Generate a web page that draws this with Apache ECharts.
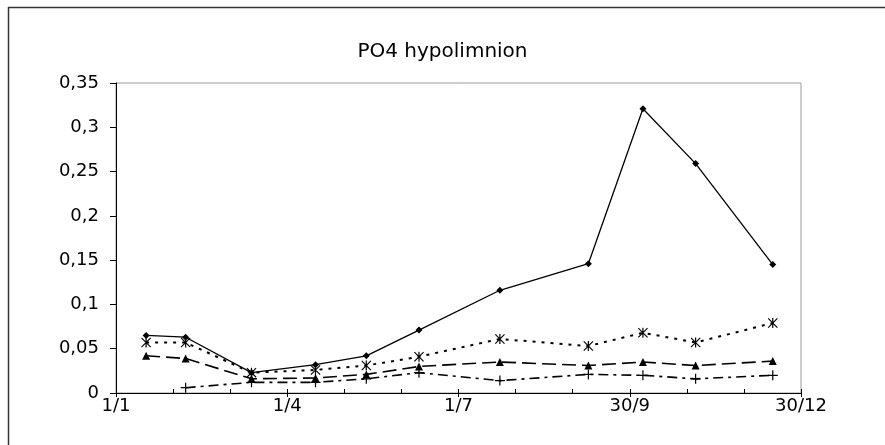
<!DOCTYPE html>
<html>
<head>
<meta charset="utf-8">
<script src="https://cdn.jsdelivr.net/npm/echarts@6/dist/echarts.min.js"></script>
<style>html,body{margin:0;padding:0;background:#fff;}#c{width:885px;height:445px;}</style>
</head>
<body>
<div id="c"></div>
<script>
// Day of year of each sampling date
const days = [16, 37, 72, 106, 133, 161, 204, 251, 280, 308, 349];
// PO4 values (mg/l)
const seriesSolid  = [0.065, 0.063, 0.023, 0.032, 0.042, 0.071, 0.116, 0.146, 0.321, 0.259, 0.145];
const seriesStar   = [0.057, 0.057, 0.023, 0.026, 0.031, 0.041, 0.061, 0.053, 0.068, 0.057, 0.079];
const seriesTri    = [0.042, 0.039, 0.016, 0.017, 0.021, 0.030, 0.035, 0.031, 0.035, 0.031, 0.036];
const seriesPlus   = [null, 0.006, 0.012, 0.012, 0.016, 0.023, 0.014, 0.021, 0.020, 0.016, 0.020];
const xTickLabels = ['1/1', '1/4', '1/7', '30/9', '30/12'];
const yTickLabels = ['0', '0,05', '0,1', '0,15', '0,2', '0,25', '0,3', '0,35'];

const pair = arr => days.map((d, i) => [d, arr[i]]);

const starPath = 'path://M4.4,0h1.2v10h-1.2zM0,0.8L0.8,0L10,9.2L9.2,10zM10,0.8L0.8,10L0,9.2L9.2,0z';
const plusPath = 'path://M4.4,0h1.2v4.4h4.4v1.2h-4.4v4.4h-1.2v-4.4h-4.4v-1.2h4.4z';

const font = 'DejaVu Sans';
const chart = echarts.init(document.getElementById('c'), null, {renderer: 'canvas'});
const xBase = {
  type: 'value', min: 0, max: 364, interval: 91, position: 'bottom', offset: 0,
  splitLine: {show: false}
};
chart.setOption({
  animation: false,
  backgroundColor: '#fff',
  title: {
    text: 'PO4 hypolimnion', left: 'center', top: 37,
    textStyle: {fontFamily: font, fontSize: 20, fontWeight: 'normal', color: '#000'}
  },
  grid: {left: 116, right: 84, top: 83, bottom: 52, show: true, borderColor: '#9a9a9a', borderWidth: 1},
  xAxis: [
    Object.assign({}, xBase, {
      axisLine: {show: true, lineStyle: {color: '#000', width: 1}},
      axisTick: {show: true, inside: true, length: 4, lineStyle: {color: '#000'}},
      minorTick: {show: true, splitNumber: 3, length: 4, lineStyle: {color: '#000'}},
      minorSplitLine: {show: false},
      axisLabel: {
        margin: 4, fontFamily: font, fontSize: 18, color: '#000',
        formatter: v => xTickLabels[Math.round(v / 91)] || ''
      }
    }),
    Object.assign({}, xBase, {
      axisLine: {show: false},
      axisTick: {show: true, inside: false, length: 4, lineStyle: {color: '#000'}},
      axisLabel: {show: false}
    })
  ],
  yAxis: {
    type: 'value', min: 0, max: 0.35, interval: 0.05,
    splitLine: {show: false},
    axisLine: {show: true, lineStyle: {color: '#000', width: 1}},
    axisTick: {show: true, length: 6, lineStyle: {color: '#000'}},
    axisLabel: {
      margin: 17, fontFamily: font, fontSize: 18, color: '#000',
      formatter: v => yTickLabels[Math.round(v / 0.05)]
    }
  },
  series: [
    {type: 'line', xAxisIndex: 0, data: pair(seriesSolid), symbol: 'diamond', symbolSize: 7,
     itemStyle: {color: '#000'}, lineStyle: {color: '#000', width: 1.3, type: 'solid'}, z: 5},
    {type: 'line', xAxisIndex: 0, data: pair(seriesStar), symbol: starPath, symbolSize: 10,
     itemStyle: {color: '#000'}, lineStyle: {color: '#000', width: 2, type: [3, 6]}, z: 4},
    {type: 'line', xAxisIndex: 0, data: pair(seriesTri), symbol: 'triangle', symbolSize: 8,
     itemStyle: {color: '#000'}, lineStyle: {color: '#000', width: 1.6, type: [14, 6]}, z: 3},
    {type: 'line', xAxisIndex: 0, data: pair(seriesPlus), symbol: plusPath, symbolSize: 10,
     connectNulls: false,
     itemStyle: {color: '#000'}, lineStyle: {color: '#000', width: 1.6, type: [10, 5, 3, 5]}, z: 2}
  ],
  graphic: [
    {type: 'line', shape: {x1: 8, y1: 7.5, x2: 885, y2: 7.5}, style: {stroke: '#333', lineWidth: 1.5}, silent: true},
    {type: 'line', shape: {x1: 8.5, y1: 7, x2: 8.5, y2: 445}, style: {stroke: '#333', lineWidth: 1.5}, silent: true}
  ]
});
</script>
</body>
</html>
